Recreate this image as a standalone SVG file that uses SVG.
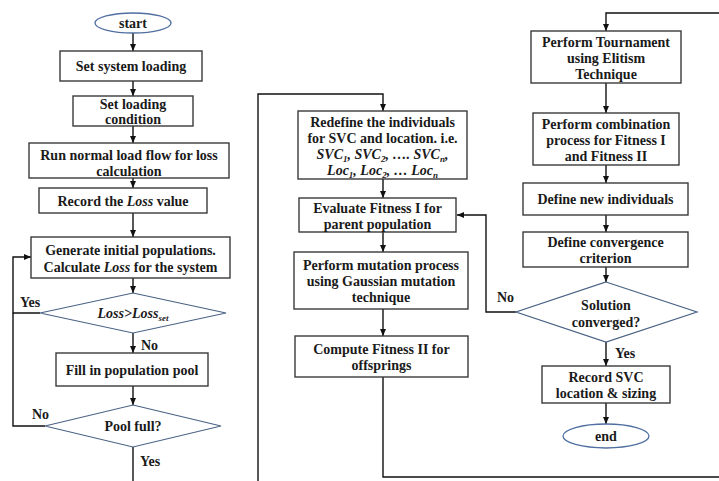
<svg xmlns="http://www.w3.org/2000/svg" width="719" height="481" viewBox="0 0 719 481">
<defs>
<marker id="arr" markerUnits="userSpaceOnUse" markerWidth="8" markerHeight="7" refX="7" refY="3" orient="auto">
<path d="M0,0 L7,3 L0,6 z" fill="#111"/>
</marker>
<style>
.box{fill:#fff;stroke:#3a3a3a;stroke-width:1.4}
.dia{fill:#fff;stroke:#4a6284;stroke-width:1.2}
.ell{fill:#fff;stroke:#4f6fa0;stroke-width:1.3}
.t{font-family:"Liberation Serif","Times New Roman",serif;font-weight:bold;font-size:14px;fill:#1a1a1a;text-anchor:middle}
.lbl{font-family:"Liberation Serif","Times New Roman",serif;font-weight:bold;font-size:14px;fill:#1a1a1a}
.i{font-style:italic}
.c{fill:none;stroke:#111;stroke-width:1.4}
</style>
</defs>
<rect width="719" height="481" fill="#fff"/>

<g id="connectors">
<path class="c" d="M133,33 V51" marker-end="url(#arr)"/>
<path class="c" d="M133,81 V96" marker-end="url(#arr)"/>
<path class="c" d="M133,126 V143" marker-end="url(#arr)"/>
<path class="c" d="M133,178 V188" marker-end="url(#arr)"/>
<path class="c" d="M133,213 V237" marker-end="url(#arr)"/>
<path class="c" d="M133,278 V293" marker-end="url(#arr)"/>
<path class="c" d="M133,333 V353" marker-end="url(#arr)"/>
<path class="c" d="M133,386 V405" marker-end="url(#arr)"/>
<path class="c" d="M40,313 H13 V257 H31" marker-end="url(#arr)"/>
<path class="c" d="M45,426 H13 V313"/>
<path class="c" d="M133,447 V481"/>
<path class="c" d="M258,481 V94 H383 V111" marker-end="url(#arr)"/>
<path class="c" d="M383,179 V198" marker-end="url(#arr)"/>
<path class="c" d="M383,232 V252" marker-end="url(#arr)"/>
<path class="c" d="M383,309 V336" marker-end="url(#arr)"/>
<path class="c" d="M383,377 V477 H719"/>
<path class="c" d="M719,13 H606 V31" marker-end="url(#arr)"/>
<path class="c" d="M606,83 V113" marker-end="url(#arr)"/>
<path class="c" d="M606,165 V183" marker-end="url(#arr)"/>
<path class="c" d="M606,215 V232" marker-end="url(#arr)"/>
<path class="c" d="M606,267 V282" marker-end="url(#arr)"/>
<path class="c" d="M606,342 V366" marker-end="url(#arr)"/>
<path class="c" d="M606,403 V424" marker-end="url(#arr)"/>
<path class="c" d="M516,312 H486 V215 H457" marker-end="url(#arr)"/>
<text class="lbl" x="20" y="307">Yes</text>
<text class="lbl" x="141" y="350">No</text>
<text class="lbl" x="32" y="419">No</text>
<text class="lbl" x="140" y="466">Yes</text>
<text class="lbl" x="497" y="302">No</text>
<text class="lbl" x="615" y="358">Yes</text>
</g>

<g id="start">
<ellipse class="ell" cx="133" cy="23" rx="38" ry="10"/>
<text class="t" x="133" y="28">start</text>
</g>
<g id="set-system-loading">
<rect class="box" x="60" y="51" width="142" height="30"/>
<text class="t" x="131" y="71">Set system loading</text>
</g>
<g id="set-loading-condition">
<rect class="box" x="73" y="96" width="120" height="30"/>
<text class="t" x="133" y="109">Set loading</text>
<text class="t" x="133" y="124">condition</text>
</g>
<g id="run-load-flow">
<rect class="box" x="29" y="143" width="200" height="35"/>
<text class="t" x="129" y="160">Run normal load flow for loss</text>
<text class="t" x="129" y="176">calculation</text>
</g>
<g id="record-loss">
<rect class="box" x="39" y="188" width="168" height="25"/>
<text class="t" x="123" y="206">Record the <tspan class="i">Loss</tspan> value</text>
</g>
<g id="generate">
<rect class="box" x="31" y="237" width="199" height="41"/>
<text class="t" x="130.5" y="255">Generate initial populations.</text>
<text class="t" x="130.5" y="272">Calculate <tspan class="i">Loss</tspan> for the system</text>
</g>
<g id="loss-check">
<polygon class="dia" points="133,293 226,313 133,333 40,313"/>
<text class="t" x="133" y="318"><tspan class="i">Loss&gt;Loss</tspan><tspan class="i" font-size="9" dy="3">set</tspan></text>
</g>
<g id="fill-pool">
<rect class="box" x="56" y="353" width="152" height="33"/>
<text class="t" x="132" y="375">Fill in population pool</text>
</g>
<g id="pool-full">
<polygon class="dia" points="133,405 221,426 133,447 45,426"/>
<text class="t" x="133" y="431">Pool full?</text>
</g>

<g id="redefine">
<rect class="box" x="298" y="111" width="169" height="68"/>
<text class="t" x="382.5" y="127">Redefine the individuals</text>
<text class="t" x="382.5" y="143">for SVC and location. i.e.</text>
<text class="t i" x="382.5" y="159">SVC<tspan font-size="9" dy="3">1</tspan><tspan dy="-3">, SVC</tspan><tspan font-size="9" dy="3">2</tspan><tspan dy="-3">, …. SVC</tspan><tspan font-size="9" dy="3">n</tspan><tspan dy="-3">,</tspan></text>
<text class="t i" x="382.5" y="175">Loc<tspan font-size="9" dy="3">1</tspan><tspan dy="-3">, Loc</tspan><tspan font-size="9" dy="3">2</tspan><tspan dy="-3">, … Loc</tspan><tspan font-size="9" dy="3">n</tspan></text>
</g>
<g id="evaluate-fitness-1">
<rect class="box" x="299" y="198" width="157" height="34"/>
<text class="t" x="377.5" y="213">Evaluate Fitness I for</text>
<text class="t" x="377.5" y="229">parent population</text>
</g>
<g id="mutation">
<rect class="box" x="294" y="252" width="174" height="57"/>
<text class="t" x="381" y="270">Perform mutation process</text>
<text class="t" x="381" y="286">using Gaussian mutation</text>
<text class="t" x="381" y="302">technique</text>
</g>
<g id="compute-fitness-2">
<rect class="box" x="295" y="336" width="173" height="41"/>
<text class="t" x="381.5" y="354">Compute Fitness II for</text>
<text class="t" x="381.5" y="370">offsprings</text>
</g>

<g id="tournament">
<rect class="box" x="531" y="31" width="150" height="52"/>
<text class="t" x="606" y="47">Perform Tournament</text>
<text class="t" x="606" y="63">using Elitism</text>
<text class="t" x="606" y="79">Technique</text>
</g>
<g id="combination">
<rect class="box" x="533" y="113" width="146" height="52"/>
<text class="t" x="606" y="129">Perform combination</text>
<text class="t" x="606" y="145">process for Fitness I</text>
<text class="t" x="606" y="161">and Fitness II</text>
</g>
<g id="new-individuals">
<rect class="box" x="523" y="183" width="165" height="32"/>
<text class="t" x="605.5" y="204">Define new individuals</text>
</g>
<g id="convergence">
<rect class="box" x="523" y="232" width="165" height="35"/>
<text class="t" x="605.5" y="247">Define convergence</text>
<text class="t" x="605.5" y="263">criterion</text>
</g>
<g id="converged">
<polygon class="dia" points="606,282 697,312 606,342 516,312"/>
<text class="t" x="606" y="310">Solution</text>
<text class="t" x="606" y="327">converged?</text>
</g>
<g id="record-svc">
<rect class="box" x="542" y="366" width="128" height="37"/>
<text class="t" x="606" y="382">Record SVC</text>
<text class="t" x="606" y="398">location &amp; sizing</text>
</g>
<g id="end">
<ellipse class="ell" cx="606" cy="436" rx="43" ry="12"/>
<text class="t" x="606" y="441">end</text>
</g>
</svg>
